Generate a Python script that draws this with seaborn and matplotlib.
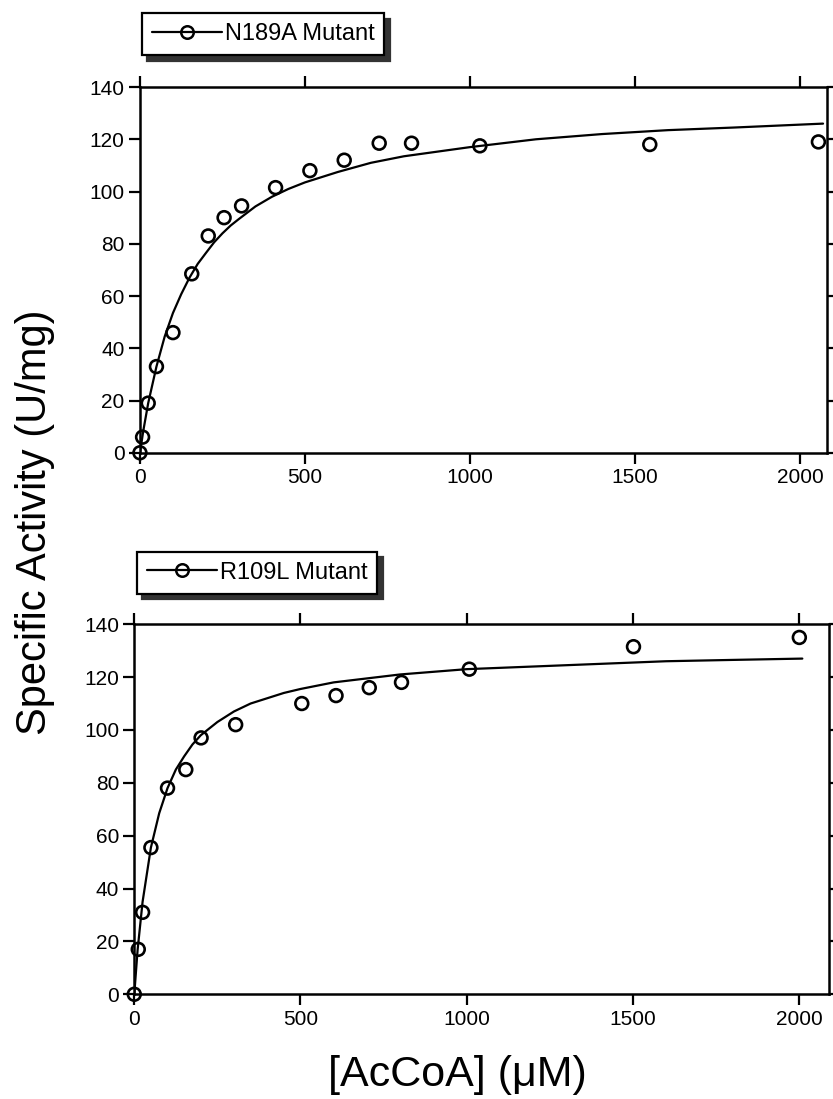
import numpy as np
import pandas as pd
import seaborn as sns
import matplotlib.pyplot as plt
from matplotlib.lines import Line2D

# N189A mutant - measured points
n189a_x = [0, 8, 25, 50, 100, 157, 207, 255, 308, 411, 515, 619, 725, 823, 1030, 1545, 2056]
n189a_y = [0, 6, 19, 33, 46, 68.5, 83, 90, 94.5, 101.5, 108, 112, 118.5, 118.5, 117.5, 118, 119]
# N189A fitted curve
n189a_fit_x = [0, 10, 25, 50, 75, 100, 125, 150, 175, 200, 225, 250, 275, 300, 350, 400, 450, 500,
               600, 700, 800, 1000, 1200, 1400, 1600, 1800, 2070]
n189a_fit_y = [0, 8.3, 19, 33, 44.5, 53.5, 60.7, 67, 72.3, 76.5, 80.6, 84, 87, 89.5, 94.3, 98, 101, 103.5,
               107.5, 111, 113.5, 117, 120, 122, 123.5, 124.5, 126]

# R109L mutant - measured points
r109l_x = [0, 12, 25, 50, 100, 155, 201, 305, 504, 607, 707, 804, 1008, 1502, 2001]
r109l_y = [0, 17, 31, 55.5, 78, 85, 97, 102, 110, 113, 116, 118, 123, 131.5, 135]
# R109L fitted curve
r109l_fit_x = [0, 10, 25, 50, 75, 100, 125, 150, 175, 200, 250, 300, 350, 400, 450, 500,
               600, 700, 800, 1000, 1200, 1400, 1600, 1800, 2010]
r109l_fit_y = [0, 16.8, 35, 55.5, 68.5, 78, 85, 90, 94.5, 98, 103, 107, 110, 112, 114, 115.5,
               118, 119.5, 121, 123, 124, 125, 126, 126.5, 127]

x_ticks = [0, 500, 1000, 1500, 2000]
y_ticks = [0, 20, 40, 60, 80, 100, 120, 140]

sns.set_style('ticks')
plt.rcParams['font.family'] = ['Liberation Sans', 'DejaVu Sans']
plt.rcParams['text.color'] = 'black'

fig = plt.figure(figsize=(8.33, 10.99), dpi=100)
ax1 = fig.add_axes([0.168, 0.588, 0.8244, 0.3328])
ax2 = fig.add_axes([0.1612, 0.0953, 0.8343, 0.3367])

panels = [
    (ax1, n189a_x, n189a_y, n189a_fit_x, n189a_fit_y, 'N189A Mutant', 2081, (0.170, 0.988)),
    (ax2, r109l_x, r109l_y, r109l_fit_x, r109l_fit_y, 'R109L Mutant', 2091, (0.164, 0.498)),
]

for ax, px, py, fx, fy, name, xmax, anchor in panels:
    fit = pd.DataFrame({'x': fx, 'y': fy})
    pts = pd.DataFrame({'x': px, 'y': py})
    sns.lineplot(data=fit, x='x', y='y', ax=ax, color='black', linewidth=1.6,
                 estimator=None, sort=False, zorder=2)
    sns.scatterplot(data=pts, x='x', y='y', ax=ax, color='black', marker='o',
                    s=85, facecolor='none', edgecolor='black', linewidth=1.9,
                    zorder=3, clip_on=False)
    ax.set_xlim(0, xmax)
    ax.set_ylim(0, 140)
    ax.set_xticks(x_ticks)
    ax.set_yticks(y_ticks)
    ax.set_xlabel('')
    ax.set_ylabel('')
    for s in ax.spines.values():
        s.set_visible(True)
        s.set_linewidth(1.8)
        s.set_color('black')
    ax.tick_params(direction='out', length=8, width=1.6, colors='black',
                   labelsize=15, pad=3, top=True, right=True,
                   labeltop=False, labelright=False)
    handle = Line2D([], [], color='black', linewidth=1.6, marker='o',
                    markersize=9, markerfacecolor='none',
                    markeredgecolor='black', markeredgewidth=1.8)
    leg = ax.legend([handle], [name], loc='upper left',
                    bbox_to_anchor=anchor, bbox_transform=fig.transFigure,
                    fontsize=17, frameon=True, fancybox=False,
                    edgecolor='black', framealpha=1, handlelength=3.0,
                    handletextpad=0.1, borderpad=0.42, borderaxespad=0,
                    shadow={'ox': 4, 'oy': -4, 'color': '0.2', 'alpha': 1})
    leg.get_frame().set_linewidth(1.6)
    for t in leg.get_texts():
        t.set_color('black')
    leg.set_clip_on(False)

fig.text(0.042, 0.525, 'Specific Activity (U/mg)', rotation=90,
         ha='center', va='center', fontsize=30, color='black')
fig.text(0.549, 0.022, '[AcCoA] (\u03bcM)', ha='center', va='center',
         fontsize=31, color='black')

fig.savefig('out.png', dpi=100, facecolor='white')
